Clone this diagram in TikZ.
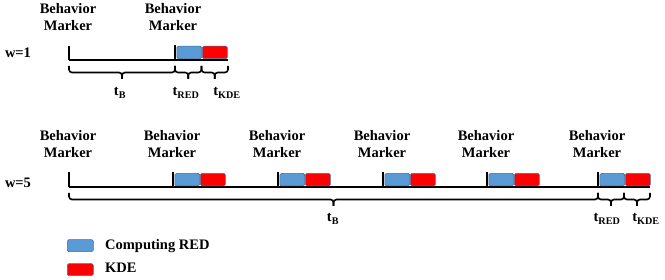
\documentclass[tikz,border=0pt]{standalone}
\usepackage{fontspec}
\setmainfont{Liberation Serif}
\definecolor{redblue}{HTML}{5B9BD5}
\definecolor{kdered}{HTML}{FF0000}
\definecolor{boxedge}{HTML}{41719C}
\newcommand\mybrace[3]{%
  \draw[bracestyle] (#1,#3) -- (#1,#3+6.5) -- ({(#1+#2)/2},#3+6.5) -- ({(#1+#2)/2},#3+13);
  \draw[bracestyle] (#2,#3) -- (#2,#3+6.5) -- ({(#1+#2)/2},#3+6.5) -- ({(#1+#2)/2},#3+13);}
\begin{document}
\begin{tikzpicture}[x=1pt,y=-1pt,
  lbl/.style={font=\bfseries\fontsize{14.5}{17}\selectfont, inner sep=0pt, align=center},
  tlab/.style={font=\bfseries\fontsize{14.5}{17}\selectfont, inner sep=0pt, anchor=base},
  tline/.style={line width=1.6pt},
  tickmark/.style={line width=2.4pt},
  bracestyle/.style={line width=1.6pt, rounded corners=3pt},
  redbox/.style={draw=boxedge, fill=redblue, line width=0.6pt, rounded corners=1.5pt,
    minimum width=25pt, minimum height=12.5pt, inner sep=0pt, anchor=south west},
  kdebox/.style={redbox, fill=kdered}]
\useasboundingbox (0,0) rectangle (665,280);

% ---------- w=1 ----------
\node[lbl] (bm1) at (68,17.5) {Behavior\\Marker};
\node[lbl] (bm2) at (173,17.5) {Behavior\\Marker};
\node[lbl, anchor=base] (w1) at (18,58) {w=1};

\coordinate (a0) at (69,60);
\coordinate (a0t) at (69,46.5);
\coordinate (a1) at (175,60);
\coordinate (a1t) at (175,45.5);
\coordinate (aend) at (228,60);
\draw[tline] (a0) -- (aend);
\draw[tickmark] (a0t) -- (a0);
\draw[tickmark] (a1t) -- (a1);
\node[redbox] (r1) at (176.5,59) {};
\node[kdebox] (k1) at (r1.south east) {};

\mybrace{69}{175}{66}
\mybrace{175}{201.5}{66}
\mybrace{201.5}{228}{66}
\node[tlab] (tb1) at (120,96) {t\textsubscript{B}};
\node[tlab] (tr1) at (186,96) {t\textsubscript{RED}};
\node[tlab] (tk1) at (227,96) {t\textsubscript{KDE}};

% ---------- w=5 ----------
\node[lbl, anchor=base] (w5) at (18,188) {w=5};
\foreach \x [count=\i] in {69,173,278,383,487,598}{
  \node[lbl] (bb\i) at (\x-1,144.5) {Behavior\\Marker};
  \coordinate (b\i) at (\x,187);
  \coordinate (b\i t) at (\x,172.5);
  \draw[tickmark] (b\i t) -- (b\i);
}
\coordinate (bend) at (650,187);
\draw[tline] (b1) -- (bend);
\foreach \x [count=\i] in {173,278,383,487,598}{
  \node[redbox] (rb\i) at (\x+1.5,186.2) {};
  \node[kdebox] (kb\i) at (rb\i.south east) {};
}

\mybrace{69}{598}{193}
\mybrace{598}{624}{193}
\mybrace{624}{650}{193}
\node[tlab] (tb5) at (333,222) {t\textsubscript{B}};
\node[tlab] (tr5) at (607,222) {t\textsubscript{RED}};
\node[tlab] (tk5) at (646,222) {t\textsubscript{KDE}};

% ---------- legend ----------
\node[redbox, minimum width=26pt, minimum height=12pt] (lg1) at (67,252) {};
\node[kdebox, minimum width=26pt, minimum height=12pt] (lg2) at (67,276) {};
\node[tlab, anchor=base west] (lt1) at (105,250) {Computing RED};
\node[tlab, anchor=base west] (lt2) at (105,273) {KDE};
\end{tikzpicture}
\end{document}
